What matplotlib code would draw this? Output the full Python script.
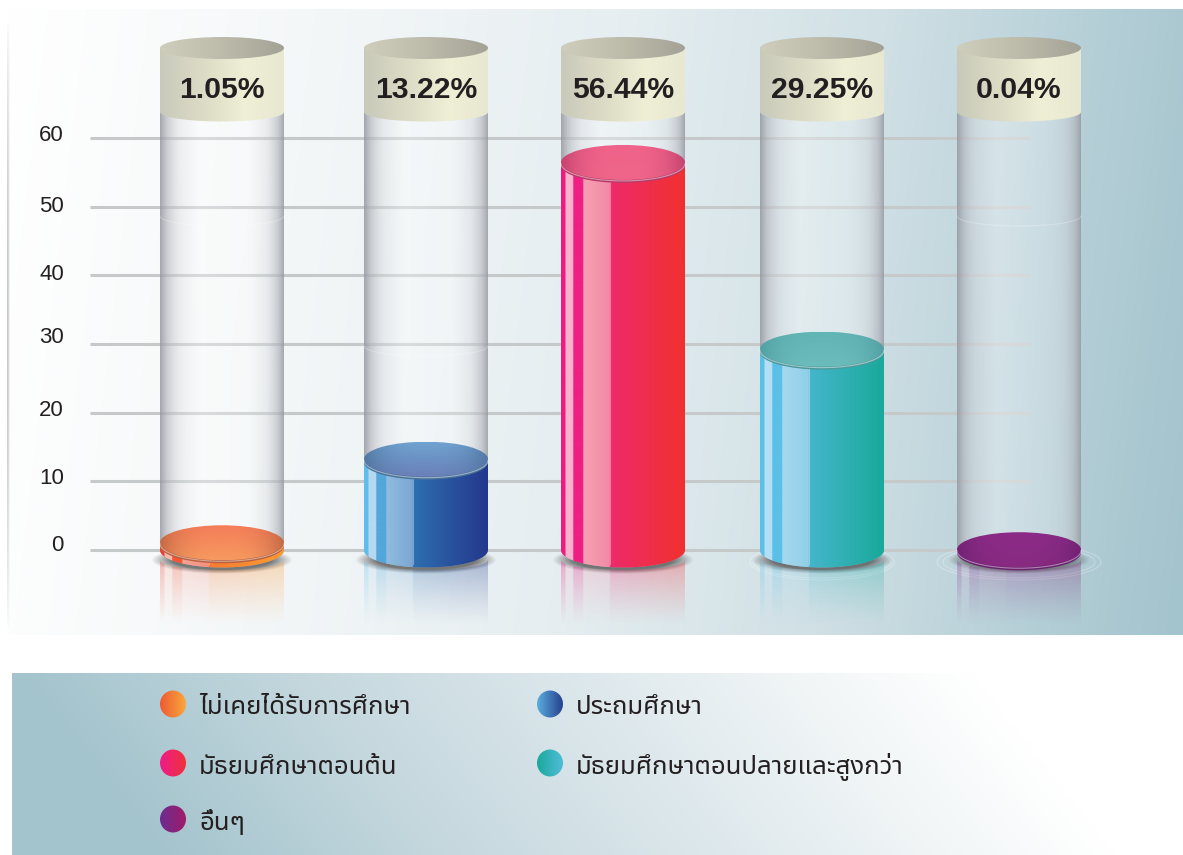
import numpy as np
import matplotlib
matplotlib.use("Agg")
import matplotlib.pyplot as plt
from matplotlib.colors import to_rgb
from matplotlib.patches import Polygon, Ellipse
from matplotlib.transforms import ScaledTranslation

categories = ["ไม่เคยได้รับการศึกษา", "ประถมศึกษา", "มัธยมศึกษาตอนต้น",
              "มัธยมศึกษาตอนปลายและสูงกว่า", "อื่นๆ"]
values = [1.05, 13.22, 56.44, 29.25, 0.04]
yticks = [0, 10, 20, 30, 40, 50, 60]

W, H = 1183, 855
# layout, read in pixels of the picture
PX = (550 - 138) / 60
Y0 = 550
centers = [222, 426, 623, 822, 1019]
R = 62
tick_shift = [7, 5, 5, 9, 3, 3, 5]
glass_arc = [222, 352, None, None, 222]
floor_ring = [0, 0, 0, 72, 82]
THAI = ["Noto Sans Thai", "DejaVu Sans"]

body_stops = [
    ["#ed3e2d", "#f9b8a8", "#f4542f", "#f8a393", "#f6907f", "#f87a30", "#fa9c33"],
    ["#5fbdec", "#b6d9f0", "#53a7da", "#8fbcde", "#7ba7d3", "#2e6fb0", "#24378c"],
    ["#ee1c80", "#f9b3cd", "#ef1f83", "#f6a0b3", "#f28aa6", "#ee2a6b", "#f1312f"],
    ["#5bc0e8", "#b4dff3", "#5bc0e8", "#a6d8ee", "#8fd0e8", "#45b6cc", "#19a99a"],
    ["#8a2a8c", "#c79ac8", "#8a2a8c", "#a05aa0", "#96408f", "#8a2a8c", "#7a1f6a"],
]
top_colors = [
    ("#f47c58", "#f79a60", "#b8603f"),
    ("#6fa3d0", "#6a7fb8", "#4a7198"),
    ("#f0628a", "#f0668a", "#b83a68"),
    ("#62b5b5", "#6cbcbc", "#4d9a9c"),
    ("#8d2b88", "#872a80", "#6c2070"),
]
legend_colors = [("#ee5b34", "#fba63c"), ("#5aaede", "#27408f"), ("#ee1c8a", "#f0313a"),
                 ("#1ba99c", "#4fbcd8"), ("#6b2d90", "#a01c6a")]
legend_pos = [(173, 704), (550, 704), (173, 763), (550, 763), (173, 819)]


def yv(py):
    return (Y0 - py) / PX


def hgrad(stops, n=496):
    # stops: (position, colour, alpha)
    pos = np.array([s[0] for s in stops])
    rgb = np.array([to_rgb(s[1]) for s in stops])
    alpha = np.array([s[2] for s in stops])
    u = np.linspace(0, 1, n)
    img = np.zeros((1, n, 4))
    for k in range(3):
        img[0, :, k] = np.interp(u, pos, rgb[:, k])
    img[0, :, 3] = np.interp(u, pos, alpha)
    return img


def lower_arc(cx, cy, ry, rx=R):
    t = np.linspace(np.pi, 2 * np.pi, 60)
    return np.column_stack([cx + rx * np.cos(t), cy + ry * np.sin(t)])


def paint(ax, img, extent, clip=None, z=1):
    im = ax.imshow(img, extent=extent, aspect="auto", zorder=z, interpolation="bilinear",
                   origin="upper")
    if clip is not None:
        clip.set_transform(ax.transData)
        im.set_clip_path(clip)
    return im


def background(w, h, kx, ky, stops):
    yy, xx = np.mgrid[0:1:h * 1j, 0:1:w * 1j]
    t = kx * xx + ky * yy
    pos = [s[0] for s in stops]
    rgb = np.array([to_rgb(s[1]) for s in stops])
    return np.dstack([np.interp(t, pos, rgb[:, k]) for k in range(3)])


fig = plt.figure(figsize=(W / 100, H / 100), dpi=100, facecolor="white")
ax = fig.add_axes([0, 0, 1, 1])
ax.set_facecolor("white")

# panel behind the chart
panel = background(300, 160, 0.96, 0.06, [(0, "#ffffff"), (0.25, "#f4f7f8"), (0.5, "#e6eef1"),
                                          (0.72, "#d0e0e5"), (0.88, "#b7d0d8"), (1.02, "#a3c3cd")])
paint(ax, panel, [8, W, yv(635), yv(10)], z=0)

# left edge of the panel
edge = np.zeros((200, 2, 4))
edge[:, :, :3] = 0.65
edge[:, 0, 3] = 0.6 * np.sin(np.linspace(0, np.pi, 200)) ** 0.7
paint(ax, edge, [7, 11, yv(630), yv(20)], z=0.5)

# grid
ax.hlines(yticks, 90, 1030, color="#c5c9ca", lw=2.2, zorder=1)

for i, (cx, val) in enumerate(zip(centers, values)):
    ry = 17.5 / PX
    x0, x1 = cx - R, cx + R
    stops = body_stops[i]

    # rings on the floor
    if floor_ring[i]:
        for grow in [0.7, 1.0]:
            ax.add_patch(Ellipse((cx, yv(562)), 2 * floor_ring[i] * grow + 2 * R * (1 - grow),
                                 (22 + 14 * grow) / PX, fill=False, ec="white", alpha=0.28,
                                 lw=0.8, zorder=1.1))

    # shadow on the floor
    yy, xx = np.mgrid[-1:1:60j, -1:1:200j]
    d = np.sqrt(xx ** 2 + yy ** 2)
    sh = np.zeros((60, 200, 4))
    sh[:, :, :3] = 0.3
    sh[:, :, 3] = 0.75 * np.clip((1 - d) / 0.3, 0, 1)
    paint(ax, sh, [x0 - 9, x1 + 9, yv(574), yv(546)], z=1.2)

    # reflection
    g = hgrad([(0, stops[0], 1), (0.035, stops[0], 1), (0.036, stops[1], 1), (0.097, stops[1], 1),
               (0.098, stops[2], 1), (0.178, stops[2], 1), (0.179, stops[3], 1), (0.394, stops[4], 1),
               (0.395, stops[5], 1), (1, stops[6], 1)])
    refl = np.repeat(g, 80, axis=0)
    refl[:, :, 3] = 0.34 * (np.linspace(1, 0, 80) ** 1.2)[:, None]
    refl_pts = np.vstack([lower_arc(cx, yv(560), 10 / PX), [[x1, yv(626)], [x0, yv(626)]]])
    paint(ax, refl, [x0, x1, yv(626), yv(558)], Polygon(refl_pts), z=1.3)

    # glass tube
    glass_pts = np.vstack([[[x0, yv(112)], [x1, yv(112)]], lower_arc(cx, 0, ry)[::-1]])
    glass = hgrad([(0, "#94979f", 0.85), (0.06, "#b6b8bf", 0.65), (0.16, "#dcdde1", 0.4),
                   (0.32, "#ffffff", 0.35), (0.7, "#ffffff", 0.25), (0.86, "#d8dadd", 0.4),
                   (0.95, "#b4b6bd", 0.65), (1, "#979aa2", 0.85)])
    paint(ax, glass, [x0, x1, yv(570), yv(100)], Polygon(glass_pts), z=2)
    if glass_arc[i]:
        arc = lower_arc(cx, yv(glass_arc[i] - 6), 10 / PX)
        ax.plot(arc[:, 0], arc[:, 1], color="white", alpha=0.25, lw=0.8, zorder=2.1)

    # liquid body
    body_pts = np.vstack([[[x0, val], [x1, val]], lower_arc(cx, 0, ry)[::-1]])
    paint(ax, g, [x0, x1, yv(570), val + 0.01], Polygon(body_pts), z=3)
    sx = x0 + 0.394 * 2 * R
    ax.plot([sx, sx], [val - ry, -ry * 0.82], color="white", alpha=0.35, lw=0.8, zorder=3.1)

    # liquid surface
    top, bot, dark = top_colors[i]
    ax.add_patch(Ellipse((cx, val - 3 / PX), 2 * R, 2 * ry, fc=dark, ec="none", zorder=3.9))
    yy, xx = np.mgrid[0:1:50j, -1:1:150j]
    surf = np.zeros((50, 150, 4))
    for k in range(3):
        c = (1 - yy) * to_rgb(top)[k] + yy * to_rgb(bot)[k]
        e = np.abs(xx) ** 3 * 0.8
        surf[:, :, k] = c * (1 - e) + to_rgb(dark)[k] * e
    surf[:, :, 3] = 1
    paint(ax, surf, [x0, x1, val - ry, val + ry],
          Ellipse((cx, val), 2 * R, 2 * ry), z=4)
    rim = lower_arc(cx, val - 1 / PX, ry)
    ax.plot(rim[:, 0], rim[:, 1], color="white", alpha=0.45, lw=0.8, zorder=4.1)

    # cap with the value
    cap_pts = np.vstack([lower_arc(cx, yv(112), 9.5 / PX),
                         [[x1, yv(48)], [x0, yv(48)]]])
    band = hgrad([(0, "#c9c9ba", 1), (0.35, "#dcdcc6", 1), (0.68, "#efefd6", 1), (1, "#e8e8d2", 1)])
    paint(ax, band, [x0, x1, yv(122), yv(47)], Polygon(cap_pts), z=5)
    lid = hgrad([(0, "#cfcebd", 1), (0.5, "#bdbcab", 1), (1, "#a3a296", 1)])
    paint(ax, lid, [x0, x1, yv(59), yv(37)], Ellipse((cx, yv(48)), 2 * R, 22 / PX), z=5.1)
    ax.text(cx, yv(90), f"{val:.2f}%", ha="center", va="center", family="Liberation Sans",
            fontweight="bold", fontsize=21.7, color="#231f20", zorder=6)

ax.set_xticks([])
ax.set_yticks(yticks)
ax.tick_params(axis="y", length=0, pad=-46, labelsize=16, labelcolor="#231f20")
for sp in ax.spines.values():
    sp.set_visible(False)
for lab, dy in zip(ax.get_yticklabels(), tick_shift):
    lab.set_family("Liberation Sans")
    lab.set_transform(lab.get_transform() + ScaledTranslation(0, dy / 100, fig.dpi_scale_trans))

# legend strip
lg = background(300, 60, 1.0, -0.12, [(0, "#a3c3cd"), (0.25, "#c5d8de"), (0.5, "#dfe9ed"),
                                      (0.68, "#f2f6f7"), (0.82, "#ffffff"), (1.3, "#ffffff")])
paint(ax, lg, [12, W, yv(855), yv(674)], z=0)
for name, (lx, ly), (c0, c1) in zip(categories, legend_pos, legend_colors):
    g = hgrad([(0, c0, 1), (1, c1, 1)], n=100)
    paint(ax, g, [lx - 13, lx + 13, yv(ly + 14), yv(ly - 14)],
          Ellipse((lx, yv(ly)), 26, 27 / PX), z=2)
    ax.text(lx + 26, yv(ly + 4), name, ha="left", va="center", family=THAI,
            fontweight="bold", fontsize=18.5, color="#231f20", zorder=3)

ax.set_xlim(0, W)
ax.set_ylim(yv(H), yv(0))
fig.savefig("out.png", dpi=100)
